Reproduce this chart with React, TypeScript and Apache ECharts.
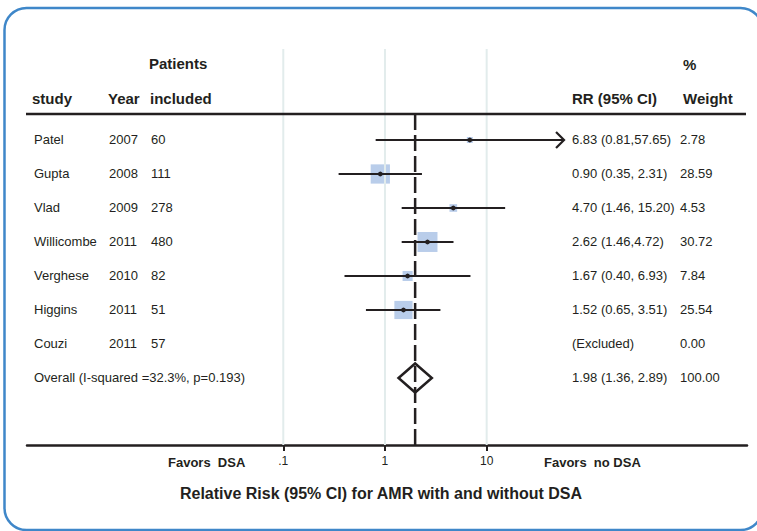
import React, { useEffect, useRef } from "react";
import * as echarts from "echarts";

// ---- data ----
const studies = ["Patel", "Gupta", "Vlad", "Willicombe", "Verghese", "Higgins", "Couzi"];
const years = ["2007", "2008", "2009", "2011", "2010", "2011", "2011"];
const patients = ["60", "111", "278", "480", "82", "51", "57"];
const rr: (number | null)[] = [6.83, 0.9, 4.7, 2.62, 1.67, 1.52, null];
const ciLow: (number | null)[] = [0.81, 0.35, 1.46, 1.46, 0.4, 0.65, null];
const ciHigh: (number | null)[] = [57.65, 2.31, 15.2, 4.72, 6.93, 3.51, null];
const weights = [2.78, 28.59, 4.53, 30.72, 7.84, 25.54, 0.0];
const rrLabels = [
  "6.83 (0.81,57.65)",
  "0.90 (0.35, 2.31)",
  "4.70 (1.46, 15.20)",
  "2.62 (1.46,4.72)",
  "1.67 (0.40, 6.93)",
  "1.52 (0.65, 3.51)",
  "(Excluded)",
];
const weightLabels = ["2.78", "28.59", "4.53", "30.72", "7.84", "25.54", "0.00"];
const overallLabel = "Overall (I-squared =32.3%, p=0.193)";
const overallRR = 1.98;
const overallLow = 1.36;
const overallHigh = 2.89;
const overallRRLabel = "1.98 (1.36, 2.89)";
const overallWeightLabel = "100.00";
const tickValues = [0.1, 1, 10];
const tickLabels = [".1", "1", "10"];
const arrowLimit = 50; // CIs reaching beyond this value are drawn with an arrow head

// ---- styling constants ----
const INK = "#231f20";
const FONT = '"Liberation Sans", Arial, sans-serif';
const BOX_COLOR = "#b9cdea";
const GRID_LINE = "#e2ecec";
const HEADER_LINE_Y = 114;
const BOX_SCALE = 3.6;
const Y_MIN = -2.676;
const Y_MAX = 8.971;

const log = (v: number) => Math.log10(v);

export default function App() {
  const ref = useRef<HTMLDivElement>(null);

  useEffect(() => {
    if (!ref.current) return;
    const chart = echarts.init(ref.current, undefined, { renderer: "svg" });

    const nStudies = studies.length;
    const overallIndex = nStudies;

    const studyData = rr
      .map((v, i) =>
        v == null ? null : [log(v), i, log(ciLow[i] as number), log(ciHigh[i] as number), weights[i]]
      )
      .filter((d) => d != null) as number[][];

    const rowNames = [...studies, overallLabel];
    const rowYears = [...years, ""];
    const rowPatients = [...patients, ""];
    const rowRR = [...rrLabels, overallRRLabel];
    const rowWeight = [...weightLabels, overallWeightLabel];

    const txt = (text: string, x: number, y: number, size = 13, weight: any = "normal", align: any = "left") => ({
      type: "text",
      style: {
        text,
        x,
        y,
        fill: INK,
        fontSize: size,
        fontFamily: FONT,
        fontWeight: weight,
        textAlign: align,
        textVerticalAlign: "middle",
      },
    });

    const option: any = {
      animation: false,
      grid: { left: 27, right: 10, top: 49, bottom: 86 },
      xAxis: {
        type: "value",
        min: -3.52,
        max: 3.56,
        position: "bottom",
        axisLine: { show: true, onZero: false, lineStyle: { color: INK, width: 2.5 } },
        axisTick: {
          show: true,
          customValues: tickValues.map(log),
          length: 6,
          lineStyle: { color: INK, width: 2 },
        },
        axisLabel: {
          show: true,
          customValues: tickValues.map(log),
          color: INK,
          fontSize: 12,
          fontFamily: FONT,
          margin: 10,
          formatter: (v: number) => {
            const k = tickValues.findIndex((t) => Math.abs(log(t) - v) < 1e-6);
            return k >= 0 ? tickLabels[k] : "";
          },
        },
        splitLine: { show: false },
      },
      yAxis: {
        type: "value",
        inverse: true,
        min: Y_MIN,
        max: Y_MAX,
        show: false,
        splitLine: { show: false },
      },
      series: [
        // weight boxes
        {
          type: "custom",
          z: 1,
          data: studyData,
          renderItem: (params: any, api: any) => {
            const c = api.coord([api.value(0), api.value(1)]);
            const side = BOX_SCALE * Math.sqrt(api.value(4));
            return {
              type: "rect",
              shape: { x: c[0] - side / 2, y: c[1] - side / 2, width: side, height: side },
              style: { fill: BOX_COLOR },
            };
          },
        },
        // light reference lines at tick values
        {
          type: "custom",
          z: 2,
          data: tickValues.map((t) => [log(t), 0]),
          renderItem: (params: any, api: any) => {
            const top = api.coord([api.value(0), Y_MIN]);
            const bot = api.coord([api.value(0), Y_MAX]);
            return {
              type: "line",
              shape: { x1: top[0], y1: top[1], x2: bot[0], y2: bot[1] },
              style: { stroke: GRID_LINE, lineWidth: 2 },
            };
          },
        },
        // CI lines and point estimates
        {
          type: "custom",
          z: 3,
          data: studyData,
          renderItem: (params: any, api: any) => {
            const i = api.value(1);
            const c = api.coord([api.value(0), i]);
            const l = api.coord([api.value(2), i]);
            const h = api.coord([api.value(3), i]);
            const children: any[] = [
              {
                type: "line",
                shape: { x1: l[0], y1: l[1], x2: h[0], y2: h[1] },
                style: { stroke: INK, lineWidth: 2.2 },
              },
              {
                type: "circle",
                shape: { cx: c[0], cy: c[1], r: 2.4 },
                style: { fill: INK },
              },
            ];
            if (Math.pow(10, api.value(3)) > arrowLimit) {
              children.push({
                type: "polyline",
                shape: { points: [[h[0] - 8, h[1] - 8], [h[0], h[1]], [h[0] - 8, h[1] + 8]] },
                style: { stroke: INK, lineWidth: 2.2, fill: "none" },
              });
            }
            return { type: "group", children };
          },
        },
        // overall: dashed line and diamond
        {
          type: "custom",
          z: 4,
          data: [[log(overallRR), overallIndex, log(overallLow), log(overallHigh)]],
          renderItem: (params: any, api: any) => {
            const i = api.value(1);
            const c = api.coord([api.value(0), i]);
            const l = api.coord([api.value(2), i]);
            const h = api.coord([api.value(3), i]);
            const bot = api.coord([api.value(0), Y_MAX]);
            const hh = 14.5;
            return {
              type: "group",
              children: [
                {
                  type: "line",
                  shape: { x1: c[0], y1: HEADER_LINE_Y, x2: c[0], y2: bot[1] },
                  style: { stroke: INK, lineWidth: 2.5, lineDash: [16, 5] },
                },
                {
                  type: "polygon",
                  shape: { points: [[l[0], c[1]], [c[0], c[1] - hh], [h[0], c[1]], [c[0], c[1] + hh]] },
                  style: { stroke: INK, lineWidth: 2.5, fill: "none" },
                },
              ],
            };
          },
        },
        // table texts
        {
          type: "custom",
          z: 5,
          data: rowNames.map((_, i) => [0, i]),
          renderItem: (params: any, api: any) => {
            const k = params.dataIndex;
            const y = api.coord([0, api.value(1)])[1];
            const children: any[] = [txt(rowNames[k], 34, y)];
            if (rowYears[k]) children.push(txt(rowYears[k], 109, y));
            if (rowPatients[k]) children.push(txt(rowPatients[k], 151, y));
            children.push(txt(rowRR[k], 572, y));
            children.push(txt(rowWeight[k], 680, y));
            return { type: "group", children };
          },
        },
      ],
      graphic: [
        {
          type: "rect",
          shape: { x: 4.5, y: 8, width: 758, height: 522, r: 22 },
          style: { stroke: "#3f87c9", lineWidth: 2.5, fill: "none" },
          z: 0,
        },
        {
          type: "line",
          shape: { x1: 26, y1: HEADER_LINE_Y, x2: 746, y2: HEADER_LINE_Y },
          style: { stroke: INK, lineWidth: 2.5 },
          z: 10,
        },
        { ...txt("Patients", 149, 63, 15, "bold"), z: 10 },
        { ...txt("study", 32, 98, 15, "bold"), z: 10 },
        { ...txt("Year", 108, 98, 15, "bold"), z: 10 },
        { ...txt("included", 150, 98, 15, "bold"), z: 10 },
        { ...txt("RR (95% CI)", 572, 98, 15, "bold"), z: 10 },
        { ...txt("%", 683, 64, 15, "bold"), z: 10 },
        { ...txt("Weight", 683, 98, 15, "bold"), z: 10 },
        { ...txt("Favors  DSA", 168, 462, 13, "bold"), z: 10 },
        { ...txt("Favors  no DSA", 544, 462, 13, "bold"), z: 10 },
        { ...txt("Relative Risk (95% CI) for AMR with and without DSA", 381, 493, 16, "bold", "center"), z: 10 },
      ],
    };

    chart.setOption(option);
    return () => chart.dispose();
  }, []);

  return (
    <div
      ref={ref}
      style={{ position: "fixed", left: 0, top: 0, width: 757, height: 531, background: "#fff" }}
    />
  );
}
